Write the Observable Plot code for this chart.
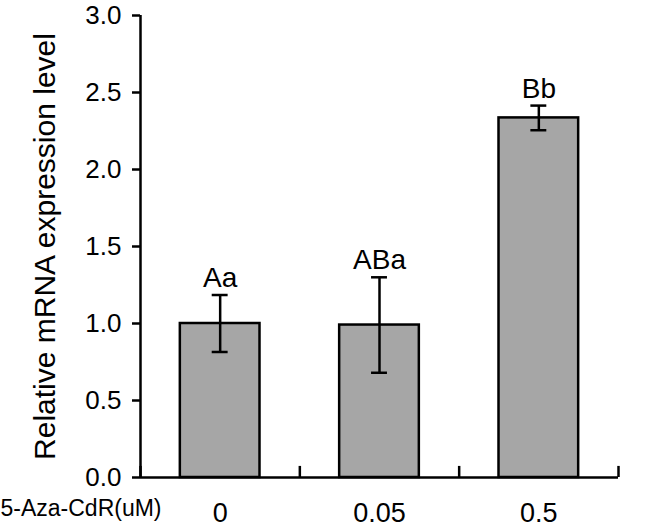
<!DOCTYPE html>
<html>
<head>
<meta charset="utf-8">
<script src="https://cdn.jsdelivr.net/npm/d3@7"></script>
<script src="https://cdn.jsdelivr.net/npm/@observablehq/plot@0.6"></script>
<style>
  html, body { margin: 0; padding: 0; background: #fff; }
</style>
</head>
<body>
<div id="chart"></div>
<script>
const categories = ["0", "0.05", "0.5"];
const means = [1.0, 0.99, 2.335];
const errors = [0.185, 0.31, 0.08];
const letters = ["Aa", "ABa", "Bb"];
const yTicks = [0, 0.5, 1.0, 1.5, 2.0, 2.5, 3.0];
const xTitle = "5-Aza-CdR(uM)";
const yTitle = "Relative mRNA expression level";

const data = categories.map((c, i) => ({
  i, cat: c, mean: means[i], lo: means[i] - errors[i], hi: means[i] + errors[i], letter: letters[i]
}));
const boundaries = d3.range(categories.length + 1);
const capHalf = 0.05;

const chart = Plot.plot({
  width: 651,
  height: 527,
  marginLeft: 140,
  marginRight: 33,
  marginTop: 15,
  marginBottom: 50,
  style: { fontFamily: "'Liberation Sans', Arial, sans-serif", color: "#000", background: "#fff" },
  x: { domain: [0, categories.length], axis: null },
  y: { domain: [0, 3], axis: null },
  marks: [
    Plot.rectY(data, { x1: d => d.i + 0.25, x2: d => d.i + 0.75, y: "mean", fill: "#a6a6a6", stroke: "#000", strokeWidth: 2.5 }),
    Plot.ruleX(data, { x: d => d.i + 0.5, y1: "lo", y2: "hi", stroke: "#000", strokeWidth: 2.5 }),
    Plot.ruleY(data, { y: "hi", x1: d => d.i + 0.5 - capHalf, x2: d => d.i + 0.5 + capHalf, stroke: "#000", strokeWidth: 2.5 }),
    Plot.ruleY(data, { y: "lo", x1: d => d.i + 0.5 - capHalf, x2: d => d.i + 0.5 + capHalf, stroke: "#000", strokeWidth: 2.5 }),
    Plot.text(data, { x: d => d.i + 0.5, y: "hi", text: "letter", dy: -8, lineAnchor: "bottom", fontSize: 28, fill: "#000" }),
    Plot.axisY({ ticks: yTicks, tickFormat: () => "", tickSize: 8, strokeWidth: 2.5, label: null }),
    Plot.text(yTicks, { x: 0, y: d => d, text: d => d.toFixed(1), textAnchor: "end", lineAnchor: "middle", dx: -19, fontSize: 26, fill: "#000" }),
    Plot.ruleX([0], { y1: 0, y2: 3, stroke: "#000", strokeWidth: 2.5 }),
    Plot.ruleY([0], { x1: 0, x2: categories.length, stroke: "#000", strokeWidth: 2.5 }),
    Plot.ruleX(boundaries, { x: d => d, y1: 0, y2: 0.072, stroke: "#000", strokeWidth: 2.5 }),
    Plot.text(data, { x: d => d.i + 0.5, y: 0, text: "cat", dy: 36, lineAnchor: "middle", fontSize: 27, fill: "#000" }),
    Plot.text([xTitle], { frameAnchor: "bottom-left", dx: -140, dy: 31, textAnchor: "start", lineAnchor: "middle", fontSize: 23, fill: "#000" }),
    Plot.text([yTitle], { frameAnchor: "left", dx: -95, rotate: -90, textAnchor: "middle", lineAnchor: "middle", fontSize: 30, fill: "#000" })
  ]
});
document.getElementById("chart").append(chart);
</script>
</body>
</html>
